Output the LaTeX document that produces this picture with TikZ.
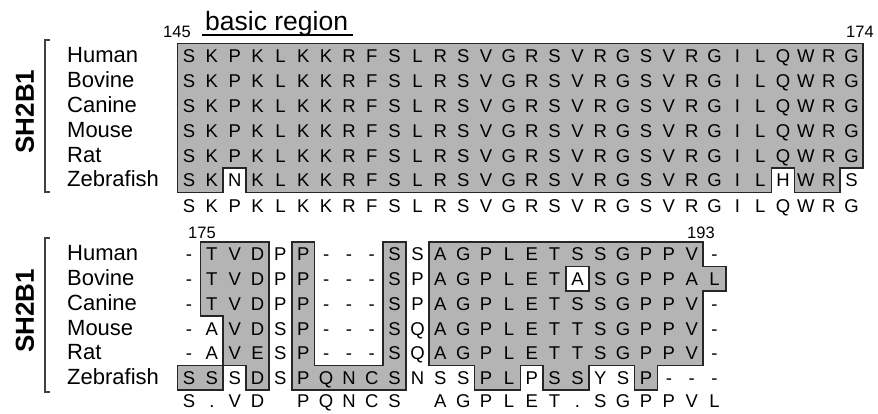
\documentclass[tikz,border=0pt]{standalone}
\usepackage{fontspec}
\setmainfont{Liberation Sans}
\usetikzlibrary{positioning}
\definecolor{AlnGray}{HTML}{B4B4B4}

\begin{document}
\begin{tikzpicture}[x=1pt, y=-1pt,
  every node/.style={inner sep=0pt},
  res/.style={font=\fontsize{18.5}{21}\selectfont, anchor=base, yshift=-6.8pt},
  species/.style={font=\fontsize{22}{24}\selectfont, anchor=base west, yshift=-6.8pt},
  posnum/.style={font=\fontsize{16.5}{18}\selectfont, anchor=base},
  genename/.style={font=\fontsize{26}{28}\selectfont\bfseries, rotate=90},
  conserved/.style={fill=AlnGray, draw=black!85, line width=1.6pt, line join=miter},
  oddres/.style={fill=white, draw=black!85, line width=1.6pt},
  bracket/.style={draw=black!75, line width=1.4pt}
]
\useasboundingbox (0,0) rectangle (878,413);

%% labels, brackets, position numbers
\node[font=\fontsize{26.5}{29}\selectfont, anchor=base west] (basic) at (205,30.7) {basic region};
\draw[line width=1.5pt] (201.7,35) -- (352.7,35);
\node[genename] (gene1) at (25,111.5) {SH2B1};
\node[genename] (gene2) at (25,311) {SH2B1};
\draw[bracket] (50,40) -- (45,40) -- (45,192) -- (50,192);
\draw[bracket] (50,238) -- (45,238) -- (45,392) -- (50,392);
\node[posnum] (n145) at (177,37.5) {145};
\node[posnum] (n174) at (860,37.5) {174};
\node[posnum] (n175) at (202,238) {175};
\node[posnum] (n193) at (701,238) {193};

%% top block: residues 145-174
\begin{scope}[x=22.85pt, y=-24.85pt, xshift=189pt, yshift=-43.5pt]
  \draw[conserved] (-0.5,0) -- (29.5,0) -- (29.5,5) -- (28.5,5) -- (28.5,6)
    -- (26.5,6) -- (26.5,5) -- (25.5,5) -- (25.5,6) -- (2.5,6) -- (2.5,5)
    -- (1.5,5) -- (1.5,6) -- (-0.5,6) -- cycle;
  \foreach \r/\sp/\row in {
      0/Human/{S,K,P,K,L,K,K,R,F,S,L,R,S,V,G,R,S,V,R,G,S,V,R,G,I,L,Q,W,R,G},
      1/Bovine/{S,K,P,K,L,K,K,R,F,S,L,R,S,V,G,R,S,V,R,G,S,V,R,G,I,L,Q,W,R,G},
      2/Canine/{S,K,P,K,L,K,K,R,F,S,L,R,S,V,G,R,S,V,R,G,S,V,R,G,I,L,Q,W,R,G},
      3/Mouse/{S,K,P,K,L,K,K,R,F,S,L,R,S,V,G,R,S,V,R,G,S,V,R,G,I,L,Q,W,R,G},
      4/Rat/{S,K,P,K,L,K,K,R,F,S,L,R,S,V,G,R,S,V,R,G,S,V,R,G,I,L,Q,W,R,G},
      5/Zebrafish/{S,K,N,K,L,K,K,R,F,S,L,R,S,V,G,R,S,V,R,G,S,V,R,G,I,L,H,W,R,S}} {
    \node[species] (spa\r) at (-5.34,\r+0.5) {\sp};
    \foreach \aa [count=\c from 0] in \row
      \node[res] (a\r-\c) at (\c,\r+0.5) {\aa};
  }
  \foreach \aa [count=\c from 0] in {S,K,P,K,L,K,K,R,F,S,L,R,S,V,G,R,S,V,R,G,S,V,R,G,I,L,Q,W,R,G}
    \node[res] (ac-\c) at (\c,6.53) {\aa};
\end{scope}

%% bottom block: residues 175-193
\begin{scope}[x=22.85pt, y=-24.72pt, xshift=189pt, yshift=-241.7pt]
  \draw[conserved] (0.5,0) -- (3.5,0) -- (3.5,6) -- (2.5,6) -- (2.5,5) -- (1.5,5)
    -- (1.5,3) -- (0.5,3) -- cycle;
  \draw[conserved] (-0.5,5) rectangle (1.5,6);
  \draw[conserved] (4.5,0) -- (5.5,0) -- (5.5,5) -- (8.5,5) -- (8.5,0) -- (9.5,0)
    -- (9.5,6) -- (4.5,6) -- cycle;
  \draw[conserved] (10.5,0) -- (22.5,0) -- (22.5,1) -- (23.5,1) -- (23.5,2) -- (22.5,2)
    -- (22.5,5) -- (20.5,5) -- (20.5,6) -- (19.5,6) -- (19.5,5) -- (17.5,5) -- (17.5,6)
    -- (15.5,6) -- (15.5,5) -- (14.5,5) -- (14.5,6) -- (12.5,6) -- (12.5,5) -- (10.5,5) -- cycle;
  \draw[oddres] (16.5,1) rectangle (17.5,2);
  \foreach \r/\sp/\row in {
      0/Human/{-,T,V,D,P,P,-,-,-,S,S,A,G,P,L,E,T,S,S,G,P,P,V,-},
      1/Bovine/{-,T,V,D,P,P,-,-,-,S,P,A,G,P,L,E,T,A,S,G,P,P,A,L},
      2/Canine/{-,T,V,D,P,P,-,-,-,S,P,A,G,P,L,E,T,S,S,G,P,P,V,-},
      3/Mouse/{-,A,V,D,S,P,-,-,-,S,Q,A,G,P,L,E,T,T,S,G,P,P,V,-},
      4/Rat/{-,A,V,E,S,P,-,-,-,S,Q,A,G,P,L,E,T,T,S,G,P,P,V,-},
      5/Zebrafish/{S,S,S,D,S,P,Q,N,C,S,N,S,S,P,L,P,S,S,Y,S,P,-,-,-}} {
    \node[species] (spb\r) at (-5.34,\r+0.5) {\sp};
    \foreach \aa [count=\c from 0] in \row
      \node[res] (b\r-\c) at (\c,\r+0.5) {\aa};
  }
  \foreach \c/\aa in {0/S,1/.,2/V,3/D,5/P,6/Q,7/N,8/C,9/S,11/A,12/G,13/P,14/L,15/E,16/T,17/.,18/S,19/G,20/P,21/P,22/V,23/L}
    \node[res] (bc-\c) at (\c,6.44) {\aa};
\end{scope}
\end{tikzpicture}
\end{document}
